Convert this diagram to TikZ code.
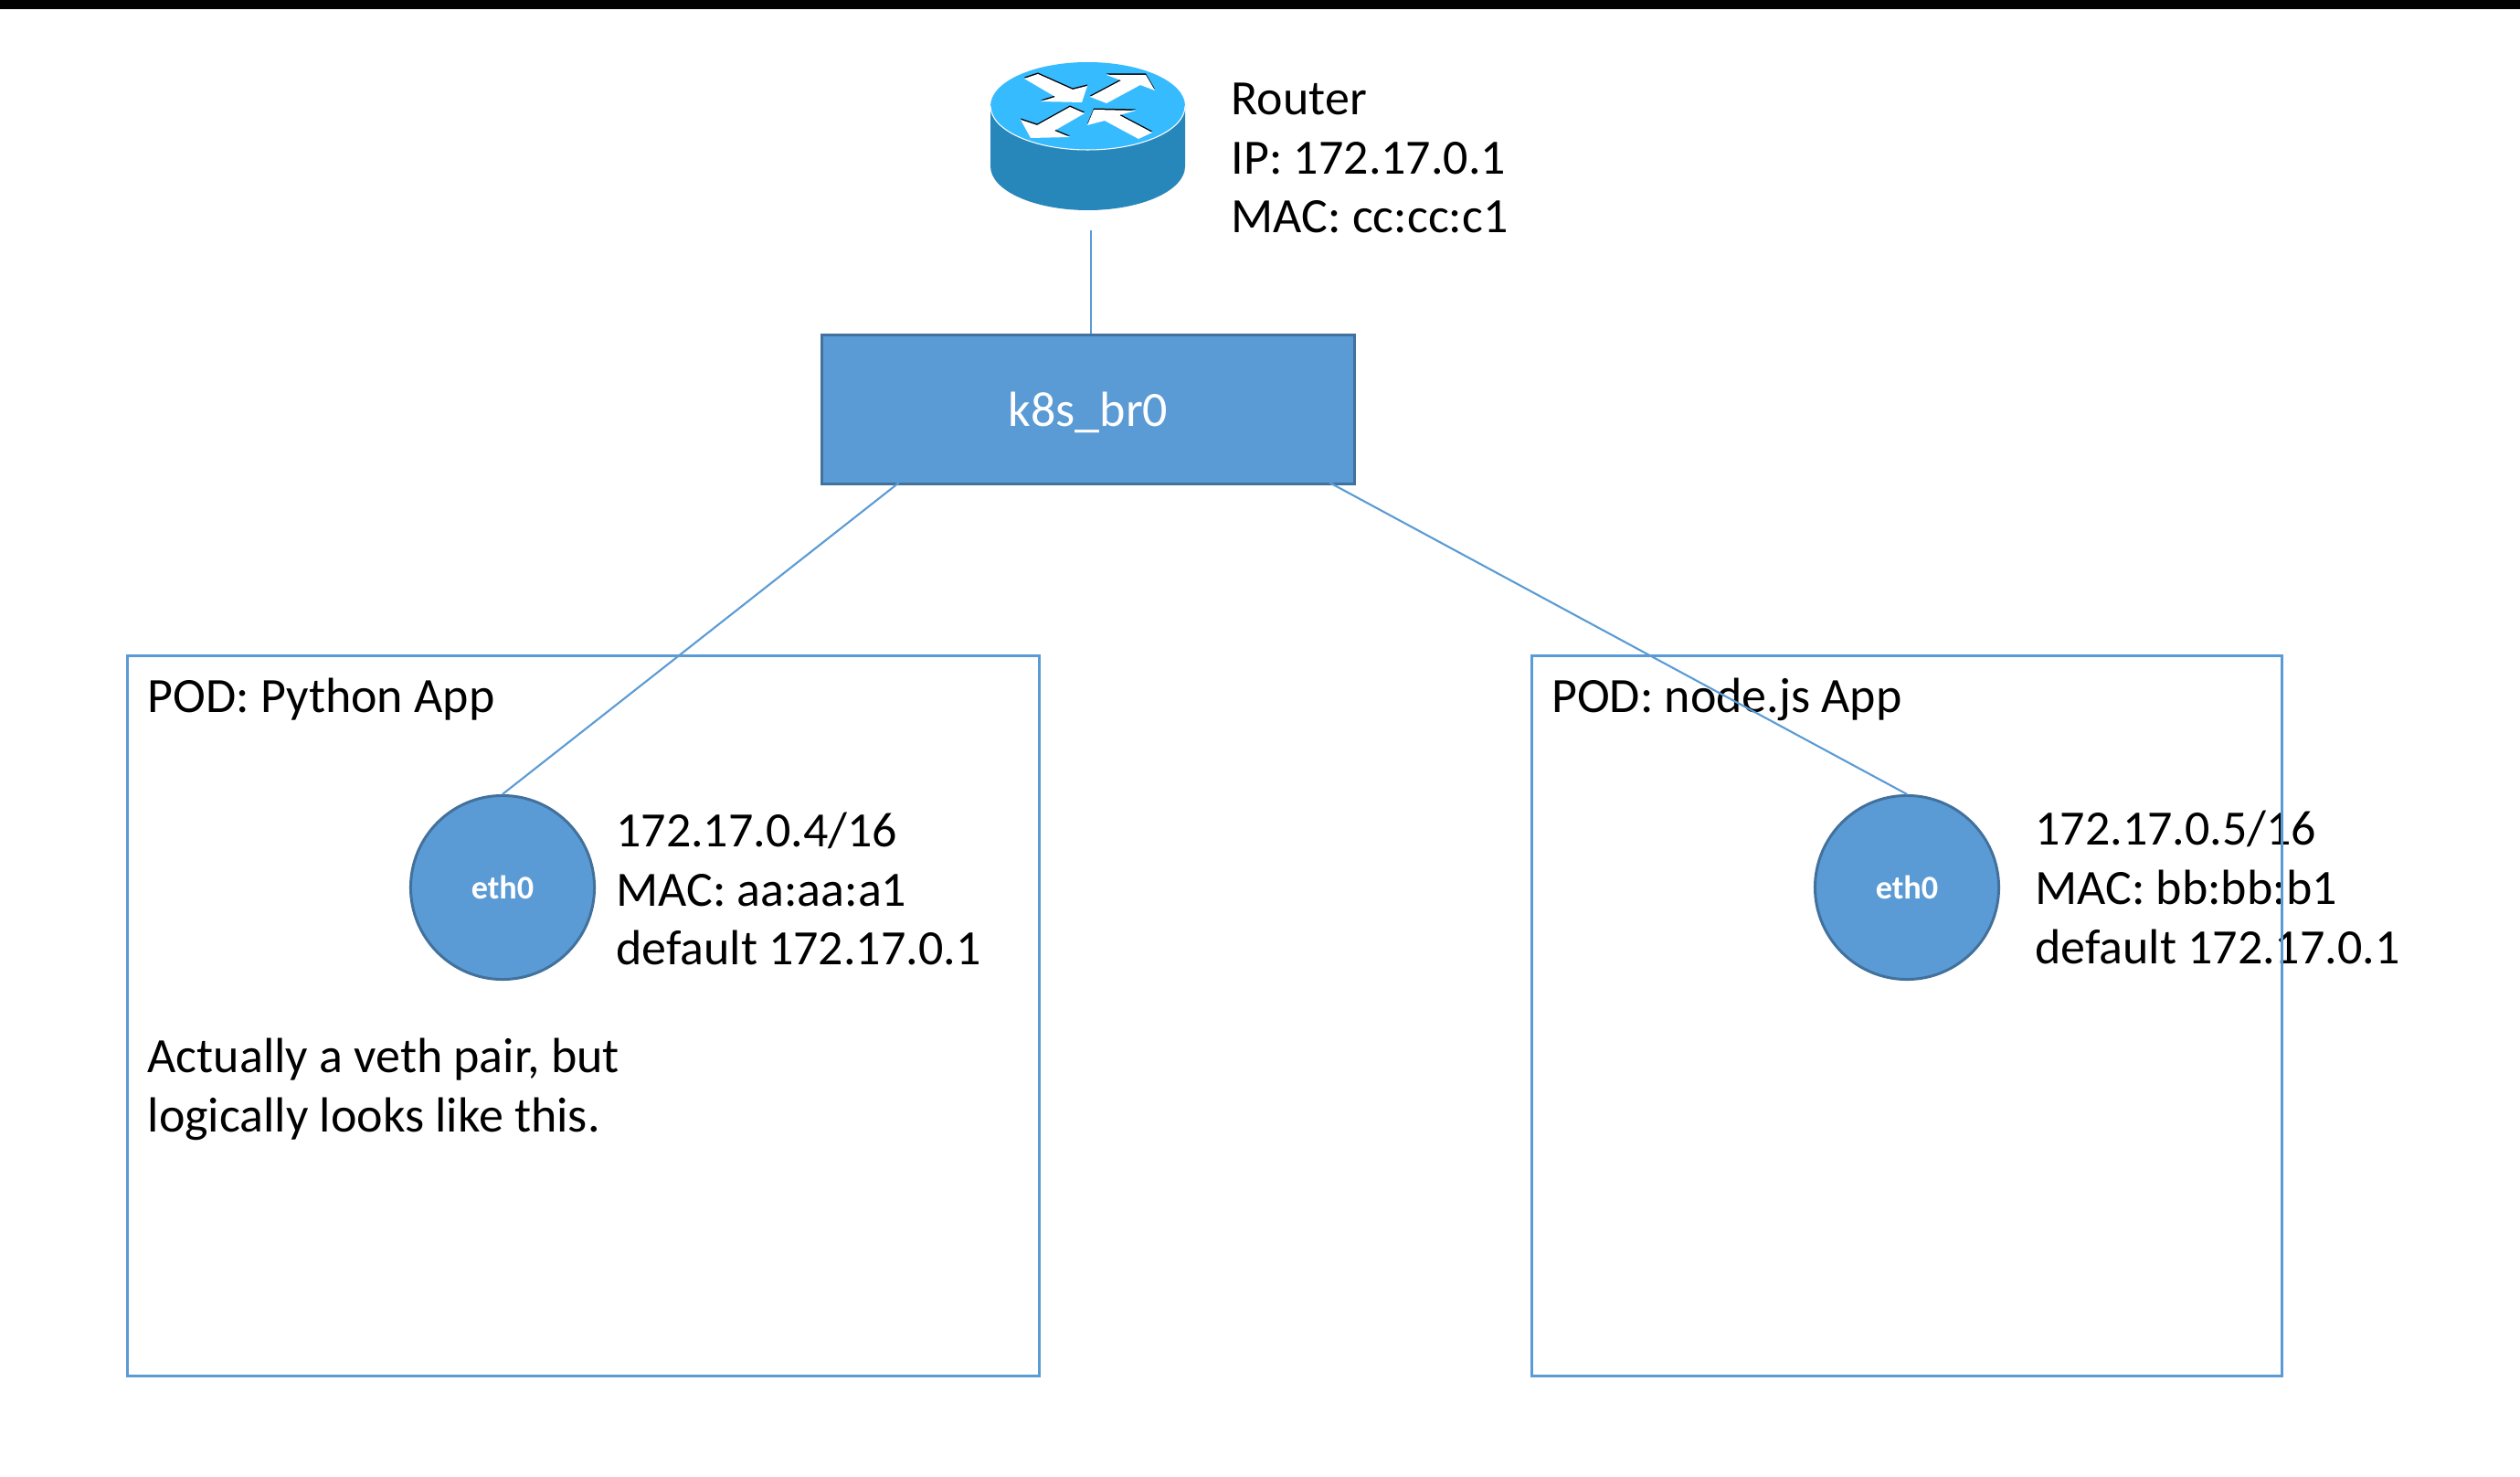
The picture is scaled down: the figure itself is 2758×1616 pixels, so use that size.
\documentclass[tikz,border=0pt]{standalone}
\usepackage{fontspec}
\setmainfont{Carlito}
\usetikzlibrary{positioning}
\definecolor{boxblue}{HTML}{5B9BD5}
\definecolor{boxedge}{HTML}{41719C}
\definecolor{routertop}{HTML}{36BBFF}
\definecolor{routerside}{HTML}{2887BA}
\newcommand{\routerarrow}[1]{
	\fill[black,yshift=0.015cm] plot coordinates {#1} -- cycle;
	\fill[white] plot coordinates {#1} -- cycle;
}
\tikzset{
	note/.style={align=left,inner sep=0pt,font=\fontsize{15.35}{18.4}\selectfont},
	pod/.style={draw=boxblue,line width=0.85pt,minimum height=7.87cm},
	iface/.style={circle,draw=boxedge,line width=0.85pt,fill=boxblue,text=white,minimum size=2.01cm,inner sep=0pt,font=\fontsize{10.3}{12}\selectfont\bfseries},
	link/.style={draw=boxblue,line width=0.6pt}
}
\begin{document}
\begin{tikzpicture}[x=0.01cm,y=-0.01cm]
	\useasboundingbox (0,0) rectangle (2758,1616);
	\fill[black] (0,0) rectangle (2758,10);

	% router
	\fill[routerside] (1084,116) -- (1084,182) arc[start angle=180,end angle=360,x radius=106.5,y radius=-48] -- (1297,116) -- cycle;
	\fill[routertop] (1190.5,116) ellipse[x radius=106.5,y radius=48];
	\draw[white,line width=0.3pt] (1084,116) arc[start angle=180,end angle=360,x radius=106.5,y radius=-48];
	\routerarrow{(1121,86) (1136,81) (1174,98) (1190,94) (1184,112) (1139,111) (1155,106)}
	\routerarrow{(1193,106) (1227,88) (1211,82) (1254,82) (1264,99) (1248,93) (1211,113)}
	\routerarrow{(1117,131) (1135,137) (1171,117) (1187,124) (1154,143) (1171,150) (1128,151)}
	\routerarrow{(1197,120) (1243,121) (1225,126) (1261,145) (1246,152) (1209,132) (1190,137)}
	\node[minimum width=2.12cm,minimum height=1.83cm,inner sep=0pt] (router) at (1194,159.5) {};
	\node[note,anchor=west] (routerinfo) at (1347,173) {Router\\IP: 172.17.0.1\\MAC: cc:cc:c1};

	\node[draw=boxedge,line width=0.85pt,fill=boxblue,text=white,font=\fontsize{15.35}{18.4}\selectfont,minimum width=5.82cm,minimum height=1.62cm] (br0) at (1191,448) {\raisebox{-0.18cm}[0pt][0pt]{k8s\_br0}};
	\coordinate (br0left) at (984,528);
	\coordinate (br0right) at (1455,528);

	\node[iface] (eth0a) at (550,971) {eth0};
	\node[iface] (eth0b) at (2087,971) {eth0};

	\node[note,right=0.215cm of eth0a,yshift=-0.015cm] (infoa) {172.17.0.4/16\\MAC: aa:aa:a1\\default 172.17.0.1};
	\node[note,right=0.375cm of eth0b] (infob) {172.17.0.5/16\\MAC: bb:bb:b1\\default 172.17.0.1};

	\node[note,anchor=base west] (titlea) at (161,779.5) {POD: Python App};
	\node[note,anchor=base west] (titleb) at (1697.5,779.5) {POD: node.js App};
	\node[note,anchor=north west] (remark) at (161,1135.5) {Actually a veth pair, but\\logically looks like this.};

	\node[pod,minimum width=9.97cm] (poda) at (638.5,1111.5) {};
	\node[pod,minimum width=8.20cm] (podb) at (2087,1111.5) {};

	\draw[link] (router.south) -- (router.south |- br0.north);
	\draw[link] (br0left) -- (eth0a.north);
	\draw[link] (br0right) -- (eth0b.north);
\end{tikzpicture}
\end{document}
